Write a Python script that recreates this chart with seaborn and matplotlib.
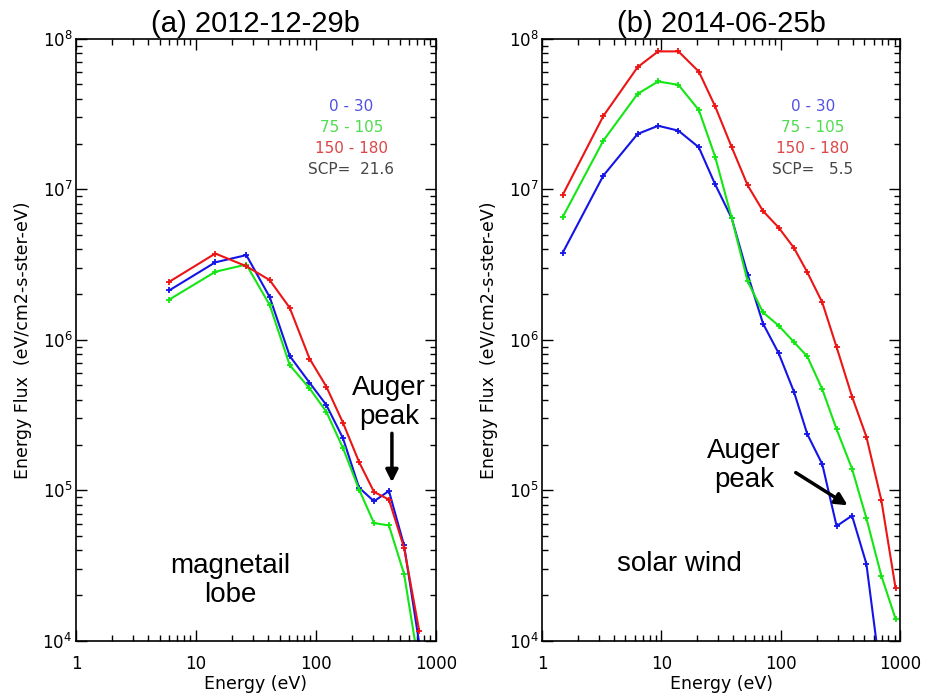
import numpy as np
import pandas as pd
import matplotlib
matplotlib.use("Agg")
import matplotlib.pyplot as plt
import seaborn as sns
from matplotlib.ticker import LogLocator, FixedLocator, FixedFormatter, NullFormatter

# ---- Panel (a): 2012-12-29b, magnetotail lobe ----
energy_a = [6.0, 14.5, 26.3, 41.2, 60.5, 88.4, 122, 168, 229, 305, 406, 543, 725]
flux_a_0_30 = [2.13e6, 3.27e6, 3.65e6, 1.92e6, 7.8e5, 5.19e5, 3.69e5, 2.22e5,
               1.04e5, 8.45e4, 9.9e4, 4.3e4, 9.7e3]
flux_a_75_105 = [1.85e6, 2.83e6, 3.16e6, 1.70e6, 6.78e5, 4.76e5, 3.33e5, 1.91e5,
                 1.01e5, 6.05e4, 5.84e4, 2.78e4, 6.7e3]
flux_a_150_180 = [2.43e6, 3.74e6, 3.08e6, 2.49e6, 1.63e6, 7.5e5, 4.89e5, 2.81e5,
                  1.54e5, 9.75e4, 8.67e4, 4.15e4, 1.17e4]
scp_a = "21.6"

# ---- Panel (b): 2014-06-25b, solar wind ----
energy_b = [1.49, 3.26, 6.32, 9.4, 13.9, 20.6, 28.2, 38.9, 52.9, 71.1, 96.2,
            129, 167, 223, 294, 396, 522, 697, 917]
flux_b_0_30 = [3.78e6, 1.23e7, 2.33e7, 2.64e7, 2.45e7, 1.9e7, 1.08e7, 6.4e6,
               2.71e6, 1.28e6, 8.13e5, 4.52e5, 2.36e5, 1.49e5, 5.78e4, 6.78e4,
               3.25e4, 5.5e3]
flux_b_75_105 = [6.53e6, 2.1e7, 4.3e7, 5.2e7, 4.94e7, 3.36e7, 1.65e7, 6.41e6,
                 2.44e6, 1.52e6, 1.24e6, 9.66e5, 7.74e5, 4.69e5, 2.54e5, 1.39e5,
                 6.53e4, 2.7e4, 1.4e4]
flux_b_150_180 = [9.16e6, 3.06e7, 6.47e7, 8.24e7, 8.24e7, 6.05e7, 3.56e7, 1.9e7,
                  1.06e7, 7.17e6, 5.56e6, 4.08e6, 2.81e6, 1.77e6, 8.93e5, 4.19e5,
                  2.27e5, 8.58e4, 2.24e4]
scp_b = "5.5"

pitch_labels = ["0 - 30", "75 - 105", "150 - 180"]
line_colors = ["#1414e6", "#14e614", "#ec1414"]
text_colors = ["#5050e6", "#50dc50", "#dc4646", "#464646"]
x_ticks = [1, 10, 100, 1000]
x_tick_labels = ["1", "10", "100", "1000"]

sns.set_theme(style="ticks")
plt.rcParams["font.family"] = ["DejaVu Sans"]
plt.rcParams["text.color"] = "black"
plt.rcParams["axes.labelcolor"] = "black"
plt.rcParams["xtick.color"] = "black"
plt.rcParams["ytick.color"] = "black"

fig = plt.figure(figsize=(9.30, 6.98), dpi=100)
ax_a = fig.add_axes([0.0817, 0.0820, 0.3870, 0.8625])
ax_b = fig.add_axes([0.5828, 0.0820, 0.3850, 0.8625])

panels = [
    (ax_a, "(a) 2012-12-29b", energy_a, [flux_a_0_30, flux_a_75_105, flux_a_150_180], scp_a),
    (ax_b, "(b) 2014-06-25b", energy_b, [flux_b_0_30, flux_b_75_105, flux_b_150_180], scp_b),
]

for ax, title, energy, series, scp in panels:
    for label, flux, col in zip(pitch_labels, series, line_colors):
        n = min(len(energy), len(flux))
        df = pd.DataFrame({"Energy": energy[:n], "Flux": flux[:n]})
        sns.lineplot(data=df, x="Energy", y="Flux", ax=ax, color=col, lw=1.5,
                     marker="+", ms=4.5, mew=1.3, mec=col, legend=False)
    ax.set_xscale("log")
    ax.set_yscale("log")
    ax.set_xlim(1, 1000)
    ax.set_ylim(1e4, 1e8)

    ax.xaxis.set_major_locator(FixedLocator(x_ticks))
    ax.xaxis.set_major_formatter(FixedFormatter(x_tick_labels))
    ax.xaxis.set_minor_locator(LogLocator(base=10, subs=np.arange(2, 10), numticks=20))
    ax.xaxis.set_minor_formatter(NullFormatter())
    ax.yaxis.set_major_locator(LogLocator(base=10, numticks=10))
    ax.yaxis.set_minor_locator(LogLocator(base=10, subs=np.arange(2, 10), numticks=20))
    ax.yaxis.set_minor_formatter(NullFormatter())

    ax.tick_params(which="both", direction="in", top=True, right=True,
                   color="black", width=1.0)
    ax.tick_params(which="major", length=8)
    ax.tick_params(which="minor", length=4.5)
    ax.tick_params(axis="x", which="major", pad=10, labelsize=12, labelcolor="black")
    ax.tick_params(axis="y", which="major", pad=2.5, labelsize=12, labelcolor="black")
    for sp in ax.spines.values():
        sp.set_visible(True)
        sp.set_linewidth(1.2)
        sp.set_color("black")

    ax.set_title(title, fontsize=21, family="Liberation Sans", pad=5, color="black")
    ax.set_xlabel("Energy (eV)", fontsize=12.5)
    ax.set_ylabel("Energy Flux  (eV/cm2-s-ster-eV)", fontsize=12.5)
    ax.xaxis.set_label_coords(0.5, -0.057)
    ax.yaxis.set_label_coords(-0.122, 0.5)
    ax.grid(False)

    # angle-range key in the upper right
    key_text = pitch_labels + ["SCP= " + scp.rjust(5)]
    key_x = 0.765 if ax is ax_a else 0.756
    for i, (t, c) in enumerate(zip(key_text, text_colors)):
        ax.text(key_x, 0.888 - i * 0.0352, t, color=c, fontsize=11,
                ha="center", va="center", transform=ax.transAxes)

# region labels
ax_a.text(0.43, 0.10, "magnetail\nlobe", ha="center", va="center", fontsize=20,
          family="Liberation Sans", linespacing=1.15, transform=ax_a.transAxes)
ax_b.text(0.383, 0.128, "solar wind", ha="center", va="center", fontsize=20,
          family="Liberation Sans", transform=ax_b.transAxes)

# Auger peak markers
ax_a.text(0.87, 0.396, "Auger\npeak", ha="center", va="center", fontsize=20,
          family="Liberation Sans", linespacing=1.15, transform=ax_a.transAxes)
ax_a.annotate("", xy=(430, 1.13e5), xytext=(430, 2.39e5),
              arrowprops=dict(arrowstyle="-|>", lw=2.5, color="black",
                              mutation_scale=18, shrinkA=0, shrinkB=0))
ax_b.text(0.564, 0.291, "Auger\npeak", ha="center", va="center", fontsize=20,
          family="Liberation Sans", linespacing=1.15, transform=ax_b.transAxes)
ax_b.annotate("", xy=(364, 7.94e4), xytext=(133.6, 1.31e5),
              arrowprops=dict(arrowstyle="-|>", lw=2.5, color="black",
                              mutation_scale=18, shrinkA=0, shrinkB=0))

fig.savefig("out.png", dpi=100, facecolor="white")
